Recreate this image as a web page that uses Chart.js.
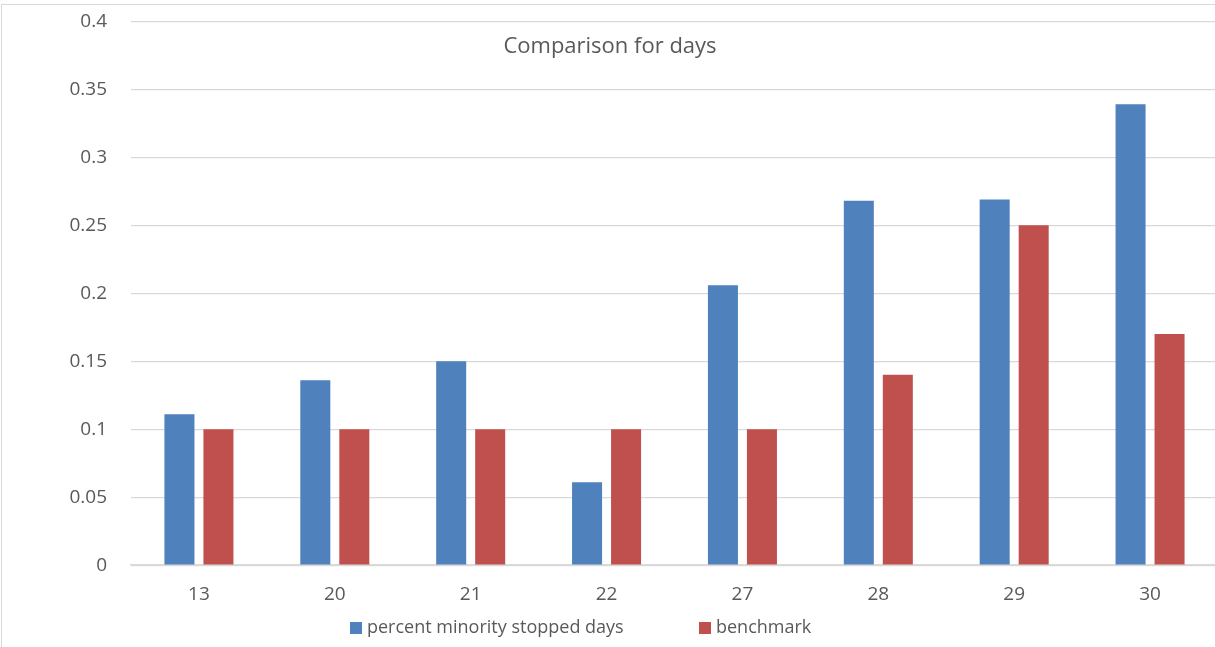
<!DOCTYPE html>
<html>
<head>
<meta charset="utf-8">
<script src="https://cdn.jsdelivr.net/npm/chart.js@4.4.1/dist/chart.umd.min.js"></script>
<style>
  html, body { margin: 0; padding: 0; background: #ffffff; overflow: hidden; }
  #frame {
    position: absolute; left: 1px; top: 4px;
    width: 1226px; height: 660px;
    border: 1px solid #d9d9d9; background: #ffffff;
  }
  #wrap { position: absolute; left: 0; top: -19px; width: 1226px; height: 661px; }
</style>
</head>
<body>
<div id="frame"><div id="wrap"><canvas id="chart"></canvas></div></div>
<script>
// Days compared
const categories = ['13', '20', '21', '22', '27', '28', '29', '30'];
// Share of stops involving minority drivers, per day
const minorityStopped = [0.111, 0.136, 0.150, 0.061, 0.206, 0.268, 0.269, 0.339];
// Benchmark share for each day
const benchmark = [0.10, 0.10, 0.10, 0.10, 0.10, 0.14, 0.25, 0.17];
const yTicks = [0, 0.05, 0.1, 0.15, 0.2, 0.25, 0.3, 0.35, 0.4];

const seriesNames = ['percent minority stopped days', 'benchmark'];
const titleText = 'Comparison for days';
const textColor = '#595959';
const fontFamily = "'Open Sans', 'Noto Sans', sans-serif";

// Title sits inside the plot area and the legend is drawn by hand below the axis
const overlay = {
  id: 'overlay',
  afterDraw(chart) {
    const ctx = chart.ctx;
    ctx.save();
    ctx.fillStyle = textColor;
    ctx.font = '22px ' + fontFamily;
    ctx.textAlign = 'center';
    ctx.textBaseline = 'middle';
    ctx.fillText(titleText, 608, 61);

    ctx.font = '18px ' + fontFamily;
    ctx.textAlign = 'left';
    const y = 642;
    const items = [
      { x: 348, label: seriesNames[0], color: chart.data.datasets[0].backgroundColor },
      { x: 697, label: seriesNames[1], color: chart.data.datasets[1].backgroundColor }
    ];
    items.forEach(it => {
      ctx.fillStyle = it.color;
      ctx.fillRect(it.x, y - 6, 12, 12);
      ctx.fillStyle = textColor;
      ctx.fillText(it.label, it.x + 17, y);
    });
    ctx.restore();
  }
};

new Chart(document.getElementById('chart'), {
  type: 'bar',
  data: {
    labels: categories,
    datasets: [
      { label: seriesNames[0], data: minorityStopped, backgroundColor: '#4f81bd' },
      { label: seriesNames[1], data: benchmark, backgroundColor: '#c0504d' }
    ]
  },
  options: {
    responsive: true,
    maintainAspectRatio: false,
    animation: false,
    devicePixelRatio: 1,
    layout: { padding: { top: 0, right: 10, left: 0, bottom: 23 } },
    datasets: { bar: { categoryPercentage: 0.574, barPercentage: 0.77 } },
    plugins: {
      legend: { display: false },
      title: { display: false },
      tooltip: { enabled: false }
    },
    scales: {
      x: {
        grid: { display: false, drawTicks: false },
        border: { display: true, color: '#d9d9d9', width: 1.5 },
        ticks: { color: textColor, font: { family: fontFamily, size: 19 }, padding: 18 }
      },
      y: {
        min: 0,
        max: 0.4,
        afterBuildTicks(scale) { scale.ticks = yTicks.map(v => ({ value: v })); },
        afterFit(scale) { scale.width = 129; },
        grid: { color: '#d9d9d9', lineWidth: 1.2, drawTicks: false },
        border: { display: false },
        ticks: {
          color: textColor,
          font: { family: fontFamily, size: 19 },
          padding: 24,
          callback: v => String(+v.toFixed(2))
        }
      }
    }
  },
  plugins: [overlay]
});
</script>
</body>
</html>
